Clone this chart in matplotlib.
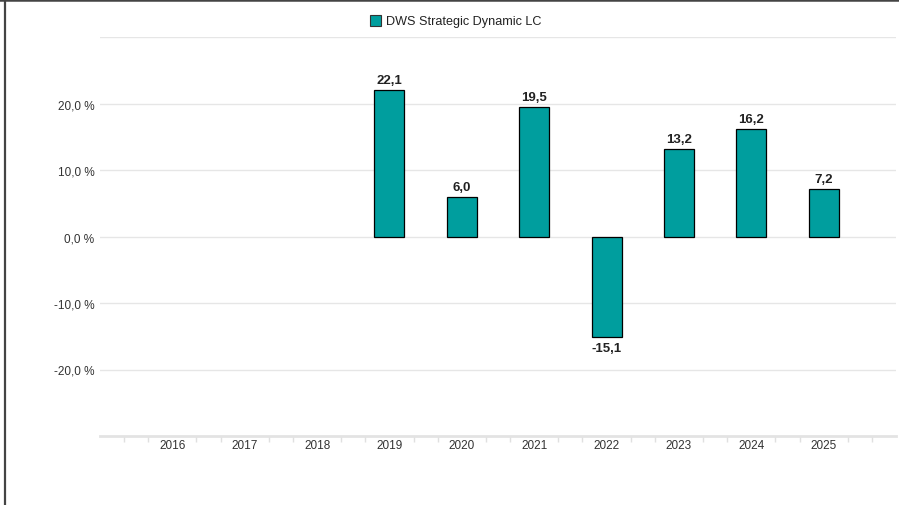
import numpy as np
import matplotlib.pyplot as plt
from matplotlib.lines import Line2D
from matplotlib.patches import Rectangle

plt.rcParams['font.family'] = ['Liberation Sans', 'DejaVu Sans']

years = ['2016', '2017', '2018', '2019', '2020', '2021', '2022', '2023', '2024', '2025']
returns = [None, None, None, 22.1, 6.0, 19.5, -15.1, 13.2, 16.2, 7.2]
series_name = 'DWS Strategic Dynamic LC'
yticks = [-20, -10, 0, 10, 20]

teal = '#009e9e'
W, H = 899, 506

fig = plt.figure(figsize=(W / 100, H / 100), dpi=100)
ax = fig.add_axes([100 / W, 1 - 437 / H, 796 / W, 399 / H])

x = np.arange(len(years))
for xi, v in zip(x, returns):
    if v is None:
        continue
    ax.bar(xi, v, width=0.415, color=teal, edgecolor='black', linewidth=0.9, zorder=3)
    lab = f'{v:.1f}'.replace('.', ',')
    if v >= 0:
        ax.text(xi, v + 0.6, lab, ha='center', va='bottom', fontsize=9.5,
                fontweight='bold', color='#222222')
    else:
        ax.text(xi, v - 0.7, lab, ha='center', va='top', fontsize=9.5,
                fontweight='bold', color='#222222')

ax.set_xlim(-1, 10)
ax.set_ylim(-30, 30)

# gridlines
for g in [30, 20, 10, 0, -10, -20]:
    ax.axhline(g, color='#e6e6e6', linewidth=1, zorder=1)

ax.set_yticks(yticks)
ax.set_yticklabels([f'{t:.1f} %'.replace('.', ',') for t in yticks])
ax.tick_params(axis='y', length=0, pad=4, labelsize=8.5, labelcolor='#333333')

ax.set_xticks(x)
ax.set_xticklabels(years)
ax.tick_params(axis='x', length=0, pad=2.5, labelsize=8.5, labelcolor='#333333')
minor = [k / 3 for k in range(-3, 31) if k % 3 != 0]
ax.set_xticks(minor, minor=True)
ax.tick_params(axis='x', which='minor', length=4, width=1, color='#e0e0e0', direction='out')

for s in ['top', 'right', 'left']:
    ax.spines[s].set_visible(False)
ax.spines['bottom'].set_color('#e3e3e3')
ax.spines['bottom'].set_linewidth(2)

# legend
fig.add_artist(Rectangle((370 / W, 1 - 27 / H), 11 / W, 11 / H, facecolor=teal,
                         edgecolor='#333333', linewidth=0.8, transform=fig.transFigure))
fig.text(386 / W, 1 - 21.5 / H, series_name, ha='left', va='center', fontsize=9.1,
         color='#222222')

# outer frame
fig.add_artist(Line2D([4.5 / W, 4.5 / W], [0, 1], color='#444444', linewidth=1.6))
fig.add_artist(Line2D([0, 1], [1 - 0.8 / H, 1 - 0.8 / H], color='#444444', linewidth=1.8))

fig.savefig('out.png', dpi=100)
